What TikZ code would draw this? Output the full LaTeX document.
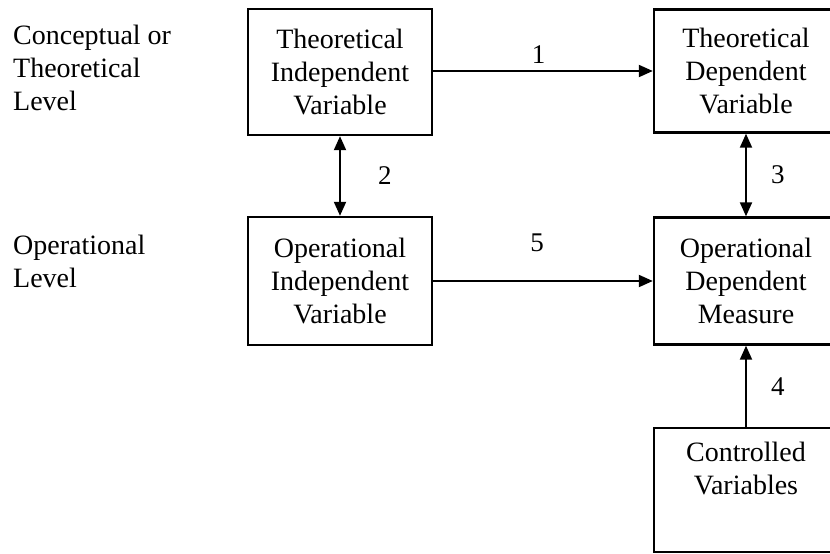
\documentclass[tikz,border=0pt]{standalone}
\usepackage{fontspec}
\setmainfont{Liberation Serif}
\usetikzlibrary{arrows.meta}
\begin{document}
\begin{tikzpicture}[x=1pt,y=-1pt,
  box/.style={draw, line width=2.4pt, minimum width=184pt, align=center,
    font=\fontsize{28}{33}\selectfont, inner sep=0pt},
  lvl/.style={align=left, anchor=west, font=\fontsize{28}{33}\selectfont, inner sep=0pt},
  num/.style={font=\fontsize{27}{30}\selectfont, inner sep=0pt},
  conn/.style={line width=2pt, -{Triangle[length=14pt,width=12pt]}},
  dconn/.style={line width=2pt, {Triangle[length=14pt,width=12pt]}-{Triangle[length=14pt,width=12pt]}}
]
\useasboundingbox[fill=white] (0,0) rectangle (830,554);
\node[box, minimum height=126pt] (tiv) at (340,72) {Theoretical\\Independent\\Variable};
\node[box, minimum height=123pt] (tdv) at (746,71) {Theoretical\\Dependent\\Variable};
\node[box, minimum height=128pt] (oiv) at (340,281) {Operational\\Independent\\Variable};
\node[box, minimum height=127pt] (odm) at (746,281) {Operational\\Dependent\\Measure};
\node[box, minimum height=124pt] (cv) at (746,490) {Controlled\\Variables\\\strut};

\node[lvl] (l1) at (13,68) {Conceptual or\\Theoretical\\Level};
\node[lvl] (l2) at (13,261) {Operational\\Level};

\draw[conn] (tiv.east |- 0,71) -- (tdv.west |- 0,71) node[num, pos=0.48, above=7pt] (n1) {1};
\draw[dconn] (tiv.south) -- (oiv.north) node[num, midway, right=37pt] (n2) {2};
\draw[dconn] (tdv.south) -- (odm.north) node[num, midway, right=24pt] (n3) {3};
\draw[conn] (oiv) -- (odm);
\node[num] (n5) at (537,243) {5};
\draw[conn] (cv.north) -- (odm.south) node[num, midway, right=24pt] (n4) {4};
\end{tikzpicture}
\end{document}
